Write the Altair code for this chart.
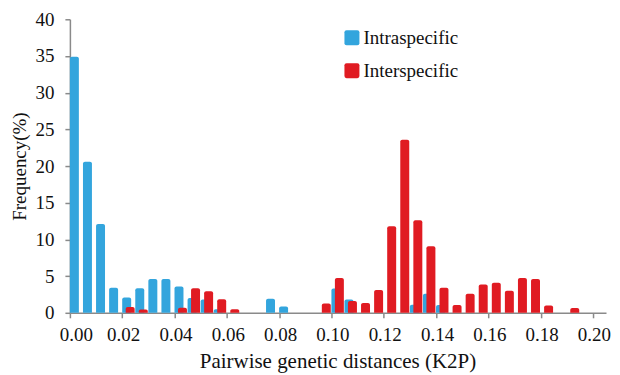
import altair as alt
import pandas as pd

# ---- data ----
bin_step = 0.005
intra_freq = [34.9, 20.6, 12.1, 3.4, 2.1, 3.35, 4.6, 4.6, 3.6, 2.0, 1.8, 0.5,
              0, 0, 0, 1.9, 0.85, 0, 0, 0, 3.3, 1.8, 0, 0, 0, 0, 1.1, 2.6, 1.05]
inter_freq = [0, 0, 0, 0, 0.8, 0.45, 0, 0, 0.7, 3.35, 2.95, 1.85, 0.5, 0, 0, 0,
              0, 0, 0, 1.27, 4.75, 1.6, 1.35, 3.1, 11.8, 23.6, 12.6, 9.06, 3.4,
              1.05, 2.6, 3.85, 4.1, 3.0, 4.75, 4.6, 1.0, 0, 0.65]
series_names = ["Intraspecific", "Interspecific"]
series_colors = ["#33a5dd", "#e01b22"]
x_tick_values = [0.00, 0.02, 0.04, 0.06, 0.08, 0.10, 0.12, 0.14, 0.16, 0.18, 0.20]
y_tick_values = [0, 5, 10, 15, 20, 25, 30, 35, 40]

# ---- bar geometry (style) ----
bar_w = 0.00343
offsets = {"Intraspecific": 0.0, "Interspecific": 0.00133}

rows = []
for name, vals in zip(series_names, [intra_freq, inter_freq]):
    for k, v in enumerate(vals):
        if v > 0:
            start = k * bin_step + offsets[name]
            rows.append({"series": name, "x0": start, "x1": start + bar_w, "freq": v})
df = pd.DataFrame(rows)

font = "Times New Roman"
rounded_sq = ("M -0.72,-1 L 0.72,-1 Q 1,-1 1,-0.72 L 1,0.72 Q 1,1 0.72,1 "
              "L -0.72,1 Q -1,1 -1,0.72 L -1,-0.72 Q -1,-1 -0.72,-1 Z")

chart = alt.Chart(df).mark_bar(
    cornerRadiusTopLeft=2, cornerRadiusTopRight=2
).encode(
    x=alt.X("x0:Q",
            scale=alt.Scale(domain=[0, 0.205], nice=False, zero=False),
            axis=alt.Axis(values=x_tick_values, format=".2f",
                          title="Pairwise genetic distances (K2P)",
                          grid=False, domainColor="#8a8a8a", domainWidth=1.5,
                          tickColor="#8a8a8a", tickWidth=1.5, tickSize=5,
                          labelFontSize=19, labelColor="#111",
                          labelPadding=8, labelFlush=False,
                          labelOffset={"condition": {"test": "datum.value === 0", "value": 6}, "value": 1},
                          titleFontSize=21, titleFontWeight="normal",
                          titleColor="#111", titleX=268, titleY=55,
                          titleBaseline="alphabetic")),
    x2="x1:Q",
    y=alt.Y("freq:Q",
            scale=alt.Scale(domain=[0, 40], nice=False),
            axis=alt.Axis(values=y_tick_values, title="Frequency(%)", grid=False,
                          domainColor="#8a8a8a", domainWidth=1.5,
                          tickColor="#8a8a8a", tickWidth=1.5, tickSize=5,
                          labelFontSize=19, labelColor="#111",
                          labelPadding=11,
                          titleFontSize=19, titleFontWeight="normal",
                          titleColor="#111", titleAngle=-90, titleX=-50, titleY=147,
                          titleAlign="center", titleBaseline="middle")),
    y2=alt.datum(0),
    color=alt.Color("series:N",
                    scale=alt.Scale(domain=series_names, range=series_colors),
                    legend=alt.Legend(title=None, orient="none", legendX=273, legendY=9,
                                      symbolType=rounded_sq, symbolSize=225,
                                      symbolStrokeWidth=0,
                                      labelFontSize=19, labelColor="#111",
                                      labelOffset=2, rowPadding=13, padding=0)),
).properties(
    width=537, height=294,
    autosize=alt.AutoSizeParams(type="none"),
    padding={"left": 62, "top": 11, "right": 6, "bottom": 62},
).configure(font=font).configure_axis(
    labelFont=font, titleFont=font
).configure_legend(labelFont=font).configure_view(stroke=None)

chart.save("out.html", embed_options={"renderer": "svg", "actions": False})
